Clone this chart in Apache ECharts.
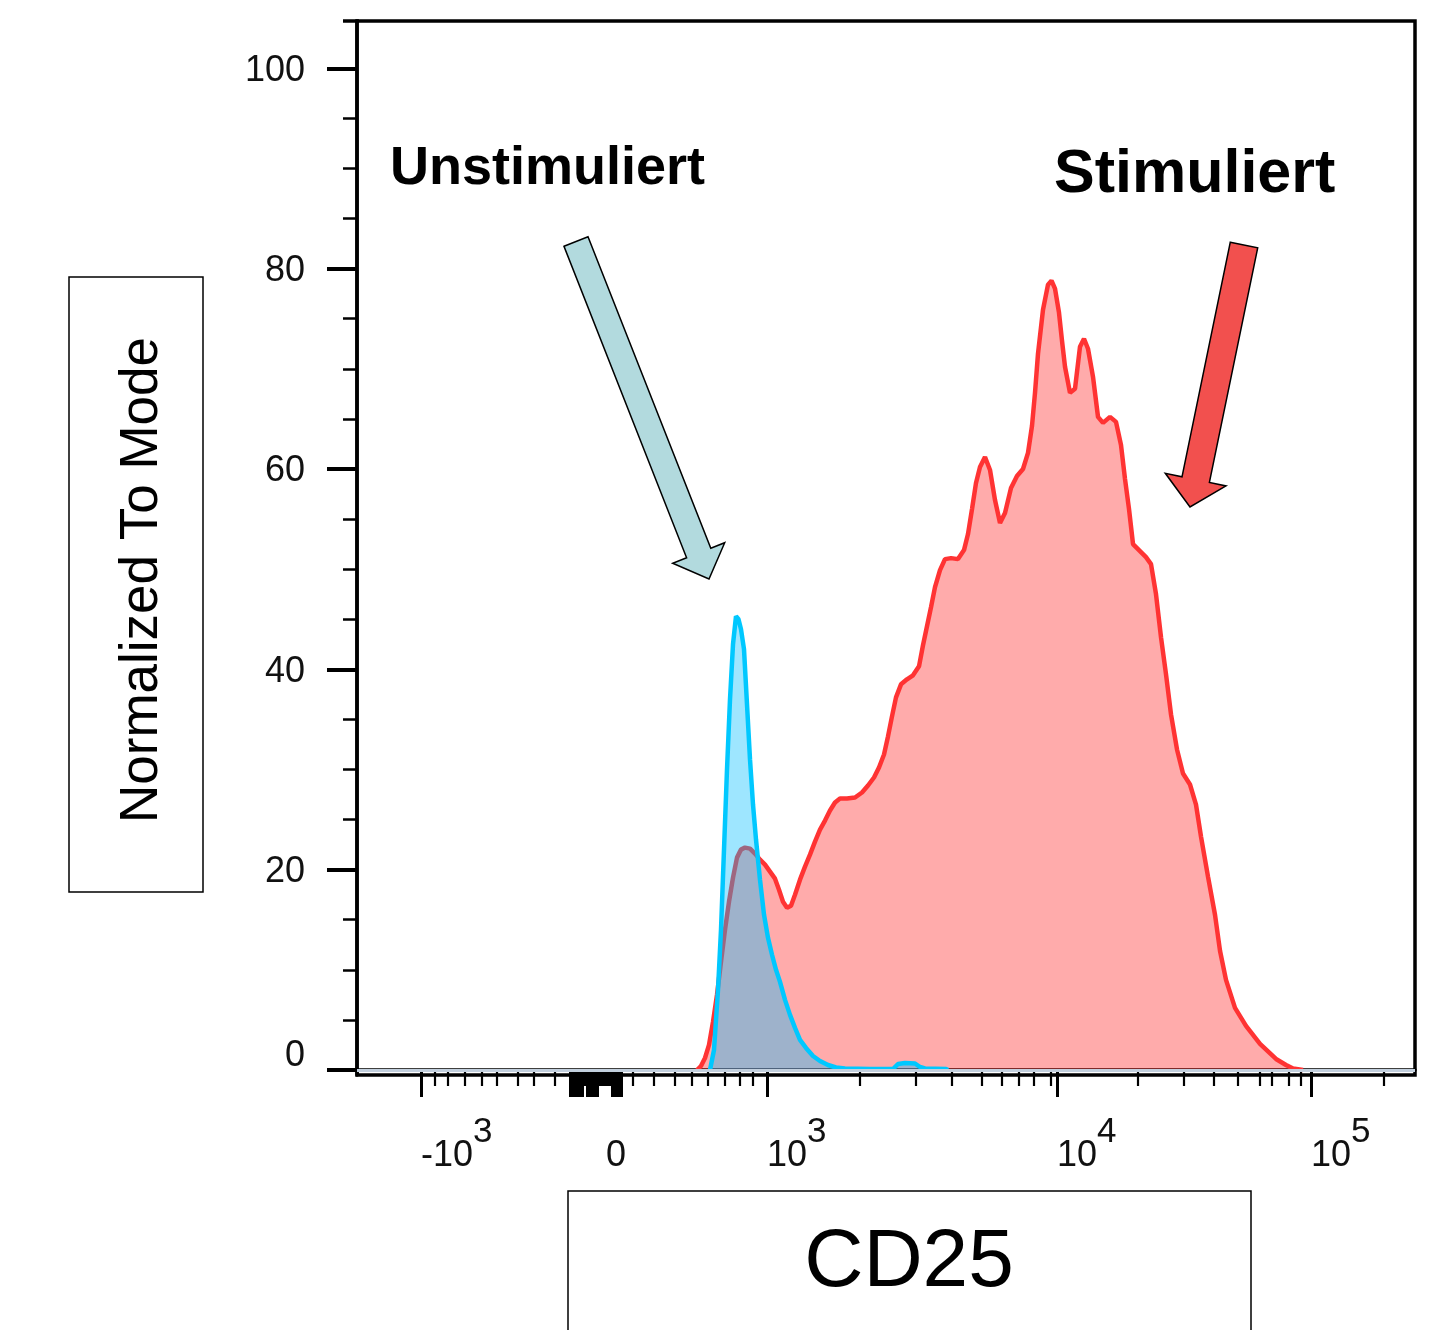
<!DOCTYPE html>
<html lang="de">
<head>
<meta charset="UTF-8">
<title>CD25</title>
<style>
  html, body { margin: 0; padding: 0; background: #fff; }
  #chart { width: 1440px; height: 1330px; }
</style>
</head>
<body>
<div id="chart"></div>
<script src="https://cdn.jsdelivr.net/npm/echarts@6/dist/echarts.min.js"></script>
<script>
// x in Anzeigekanälen der biexponentiellen CD25-Achse (0..1058)
var channelMin = 0;
var channelMax = 1058;
var yMin = -0.5;
var yMax = 104.72;

// lange Striche (Dekaden + dichter Block um 0)
var majorTicks = [64, 213, 215.5, 218, 220.5, 223, 225.5, 230.5, 233, 235.5, 238, 240.5,
  255.5, 258, 260.5, 263, 264.5, 410, 700, 954];
// kurze Striche
var minorTicks = [78, 91, 108, 125, 140, 161, 177, 198, 227, 228.5, 242.5, 244.5, 246.5, 248.5, 250.5, 252.5, 254,
  276, 297, 318, 335, 351, 368, 383, 396, 503, 559, 595, 625, 645, 662, 677, 694,
  781, 827, 857, 881, 903, 915, 932, 944, 1027];
var labelChannels = [64, 410, 700, 954];
var labelTexts = ['{b|-10}{s|3}', '{b|10}{s|3}', '{b|10}{s|4}', '{b|10}{s|5}'];
var zeroChannel = 259;

var yMajor = [0, 20, 40, 60, 80, 100];
var yMinor = [5, 10, 15, 25, 30, 35, 45, 50, 55, 65, 70, 75, 85, 90, 95];

// [Kanal, % of max]
var unstimuliert = [[353, 0], [357, 2], [361, 8], [364, 14], [367, 22], [370, 30], [373, 37], [376, 42.5], [379, 45.3],
  [381.5, 45], [384, 44], [387, 42], [390, 36.5], [393, 31], [396, 26.5], [399, 23], [403, 19], [407, 15.5],
  [411, 13.2], [415, 11.5], [419, 10], [423, 8.8], [428, 7], [433, 5.5], [438, 4.2], [443, 3], [449, 2.2],
  [456, 1.4], [463, 0.9], [471, 0.5], [479, 0.25], [488, 0.15], [513, 0.1], [536, 0.1], [541, 0.6], [548, 0.7],
  [558, 0.65], [563, 0.3], [568, 0.15], [589, 0.1], [591, 0]];

var stimuliert = [[340, 0], [344, 0.4], [348, 1.2], [352, 2.5], [356, 4.8], [360, 7.5], [364, 10.8], [368, 14],
  [372, 16.8], [376, 19.2], [380, 21.2], [384, 22], [388, 22.2], [393, 22.1], [398, 21.6], [403, 21], [408, 20.5],
  [413, 19.8], [418, 19.1], [422, 18], [426, 16.8], [430, 16.2], [434, 16.4], [438, 17.5], [443, 19], [448, 20.3],
  [453, 21.5], [458, 22.8], [463, 24], [468, 24.9], [473, 25.9], [478, 26.7], [483, 27.1], [490, 27.1], [498, 27.2],
  [505, 27.7], [511, 28.4], [517, 29.2], [522, 30.2], [527, 31.5], [531, 33.3], [535, 35.3], [539, 37.2],
  [544, 38.5], [550, 39], [556, 39.4], [562, 40.3], [566, 42.4], [570, 44.3], [574, 46.2], [578, 48.2],
  [583, 49.9], [588, 51], [594, 51.1], [601, 51], [607, 51.9], [611, 53.5], [615, 56], [619, 58.6], [623, 60.2],
  [628, 61.2], [633, 59.9], [638, 56.9], [643, 54.6], [648, 55.6], [654, 58.1], [660, 59.3], [666, 60],
  [671, 61.6], [675, 64.3], [678, 67.6], [681, 71.5], [686, 75.9], [691, 78.4], [694.5, 78.8], [698, 78],
  [702, 75.6], [705, 72.8], [708, 70.2], [713, 67.6], [718, 68], [723, 72.2], [727, 73], [731, 72], [736, 69.2],
  [741, 65.2], [746, 64.6], [753, 65.2], [759, 64.7], [764, 62.4], [768, 59], [772, 56], [776, 52.5], [783, 51.8],
  [789, 51.2], [794, 50.5], [799, 47.5], [804, 43.2], [809, 39.5], [814, 35.5], [820, 32], [826, 29.6],
  [833, 28.5], [839, 26.5], [844, 23.3], [851, 19.3], [858, 15.5], [863, 11.9], [869, 9], [878, 6.2], [889, 4.4],
  [903, 2.6], [919, 1.1], [929, 0.5], [936, 0.15], [946, 0]];

var tickFont = "'Liberation Sans', Arial, Helvetica, sans-serif";
var textFont = "'Liberation Sans', Arial, Helvetica, sans-serif";

var xRich = {
  b: { fontFamily: tickFont, fontSize: 36, lineHeight: 36, padding: [47, 0, 0, 0], color: '#111' },
  s: { fontFamily: tickFont, fontSize: 35, lineHeight: 35, verticalAlign: 'top', color: '#111' }
};

function labelFor(v) {
  for (var i = 0; i < labelChannels.length; i++) {
    if (Math.abs(labelChannels[i] - v) < 0.5) return labelTexts[i];
  }
  return '';
}

var chart = echarts.init(document.getElementById('chart'));

var option = {
  animation: false,
  backgroundColor: '#fff',
  grid: {
    left: 357, right: 25, top: 21, bottom: 255,
    show: true, borderColor: '#000', borderWidth: 3.5, backgroundColor: 'transparent'
  },
  xAxis: [{
    type: 'value', min: channelMin, max: channelMax, position: 'bottom',
    axisLine: { show: true, lineStyle: { color: '#000', width: 3.5 } },
    axisTick: { show: true, customValues: majorTicks, length: 27, lineStyle: { color: '#000', width: 3 } },
    axisLabel: { show: true, customValues: labelChannels, align: 'left', margin: 40, formatter: labelFor, rich: xRich },
    splitLine: { show: false }
  }, {
    type: 'value', min: channelMin, max: channelMax, position: 'bottom',
    axisLine: { show: false },
    axisTick: { show: true, customValues: minorTicks, length: 16, lineStyle: { color: '#000', width: 2.2 } },
    axisLabel: { show: true, customValues: [zeroChannel], align: 'center', margin: 40,
      formatter: function () { return '{b|0}'; }, rich: xRich },
    splitLine: { show: false }
  }],
  yAxis: [{
    type: 'value', min: yMin, max: yMax, position: 'left',
    axisLine: { show: true, lineStyle: { color: '#000', width: 3.5 } },
    axisTick: { show: true, customValues: yMajor, length: 30, lineStyle: { color: '#000', width: 4 } },
    axisLabel: {
      show: true, customValues: yMajor, margin: 52, fontFamily: tickFont, fontSize: 36, color: '#111',
      formatter: function (v) { return v === 0 ? '{z|0}' : '{n|' + v + '}'; },
      rich: {
        n: { fontFamily: tickFont, fontSize: 36, color: '#111', padding: [5, 0, 0, 0] },
        z: { fontFamily: tickFont, fontSize: 36, color: '#111', padding: [0, 0, 27, 0] }
      }
    },
    splitLine: { show: false }
  }, {
    type: 'value', min: yMin, max: yMax, position: 'left',
    axisLine: { show: false },
    axisTick: { show: true, customValues: yMinor, length: 14, lineStyle: { color: '#000', width: 2.5 } },
    axisLabel: { show: false },
    splitLine: { show: false }
  }],
  series: [{
    name: 'Stimuliert',
    type: 'line',
    data: stimuliert,
    xAxisIndex: 0, yAxisIndex: 0,
    symbol: 'none',
    smooth: false,
    lineStyle: { color: '#ff3333', width: 4.5 },
    areaStyle: { color: 'rgba(255, 0, 0, 0.33)', opacity: 1, origin: 0 },
    markLine: {
      silent: true, symbol: 'none', label: { show: false },
      lineStyle: { color: '#c3d0de', width: 3, type: 'solid' },
      data: [{ yAxis: 0 }]
    },
    z: 2
  }, {
    name: 'Unstimuliert',
    type: 'line',
    data: unstimuliert,
    xAxisIndex: 0, yAxisIndex: 0,
    symbol: 'none',
    smooth: false,
    lineStyle: { color: '#00c8ff', width: 4.5 },
    areaStyle: { color: 'rgba(0, 190, 255, 0.38)', opacity: 1, origin: 0 },
    z: 3
  }],
  graphic: [
    { type: 'line', shape: { x1: 343, y1: 21, x2: 359, y2: 21 }, style: { stroke: '#000', lineWidth: 3.5 } },
    { type: 'rect', shape: { x: 69, y: 277, width: 134, height: 615 },
      style: { fill: 'none', stroke: '#000', lineWidth: 1.5 } },
    { type: 'text', x: 142, y: 580, rotation: Math.PI / 2,
      style: { text: 'Normalized To Mode', font: '53px ' + textFont, fill: '#000', align: 'center', verticalAlign: 'middle' } },
    { type: 'rect', shape: { x: 568, y: 1191, width: 683, height: 170 },
      style: { fill: 'none', stroke: '#000', lineWidth: 1.5 } },
    { type: 'text', x: 909, y: 1263,
      style: { text: 'CD25', font: '82px ' + textFont, fill: '#000', align: 'center', verticalAlign: 'middle' } },
    { type: 'text', x: 390, y: 169,
      style: { text: 'Unstimuliert', font: 'bold 54px ' + textFont, fill: '#000', align: 'left', verticalAlign: 'middle' } },
    { type: 'text', x: 1054, y: 175,
      style: { text: 'Stimuliert', font: 'bold 61px ' + textFont, fill: '#000', align: 'left', verticalAlign: 'middle' } },
    { type: 'polygon',
      shape: { points: [[564, 246.3], [588, 236.7], [710.8, 548.2], [724.7, 542.7], [709, 579], [672.7, 563.3], [686.6, 557.8]] },
      style: { fill: '#b2dade', stroke: '#000', lineWidth: 1.5 } },
    { type: 'polygon',
      shape: { points: [[1230.3, 242.2], [1257.7, 247.8], [1209.4, 482.4], [1226, 485.9], [1190, 507], [1165.3, 473.3], [1182, 476.8]] },
      style: { fill: '#f2504e', stroke: '#000', lineWidth: 1.5 } }
  ]
};

chart.setOption(option);
</script>
</body>
</html>
